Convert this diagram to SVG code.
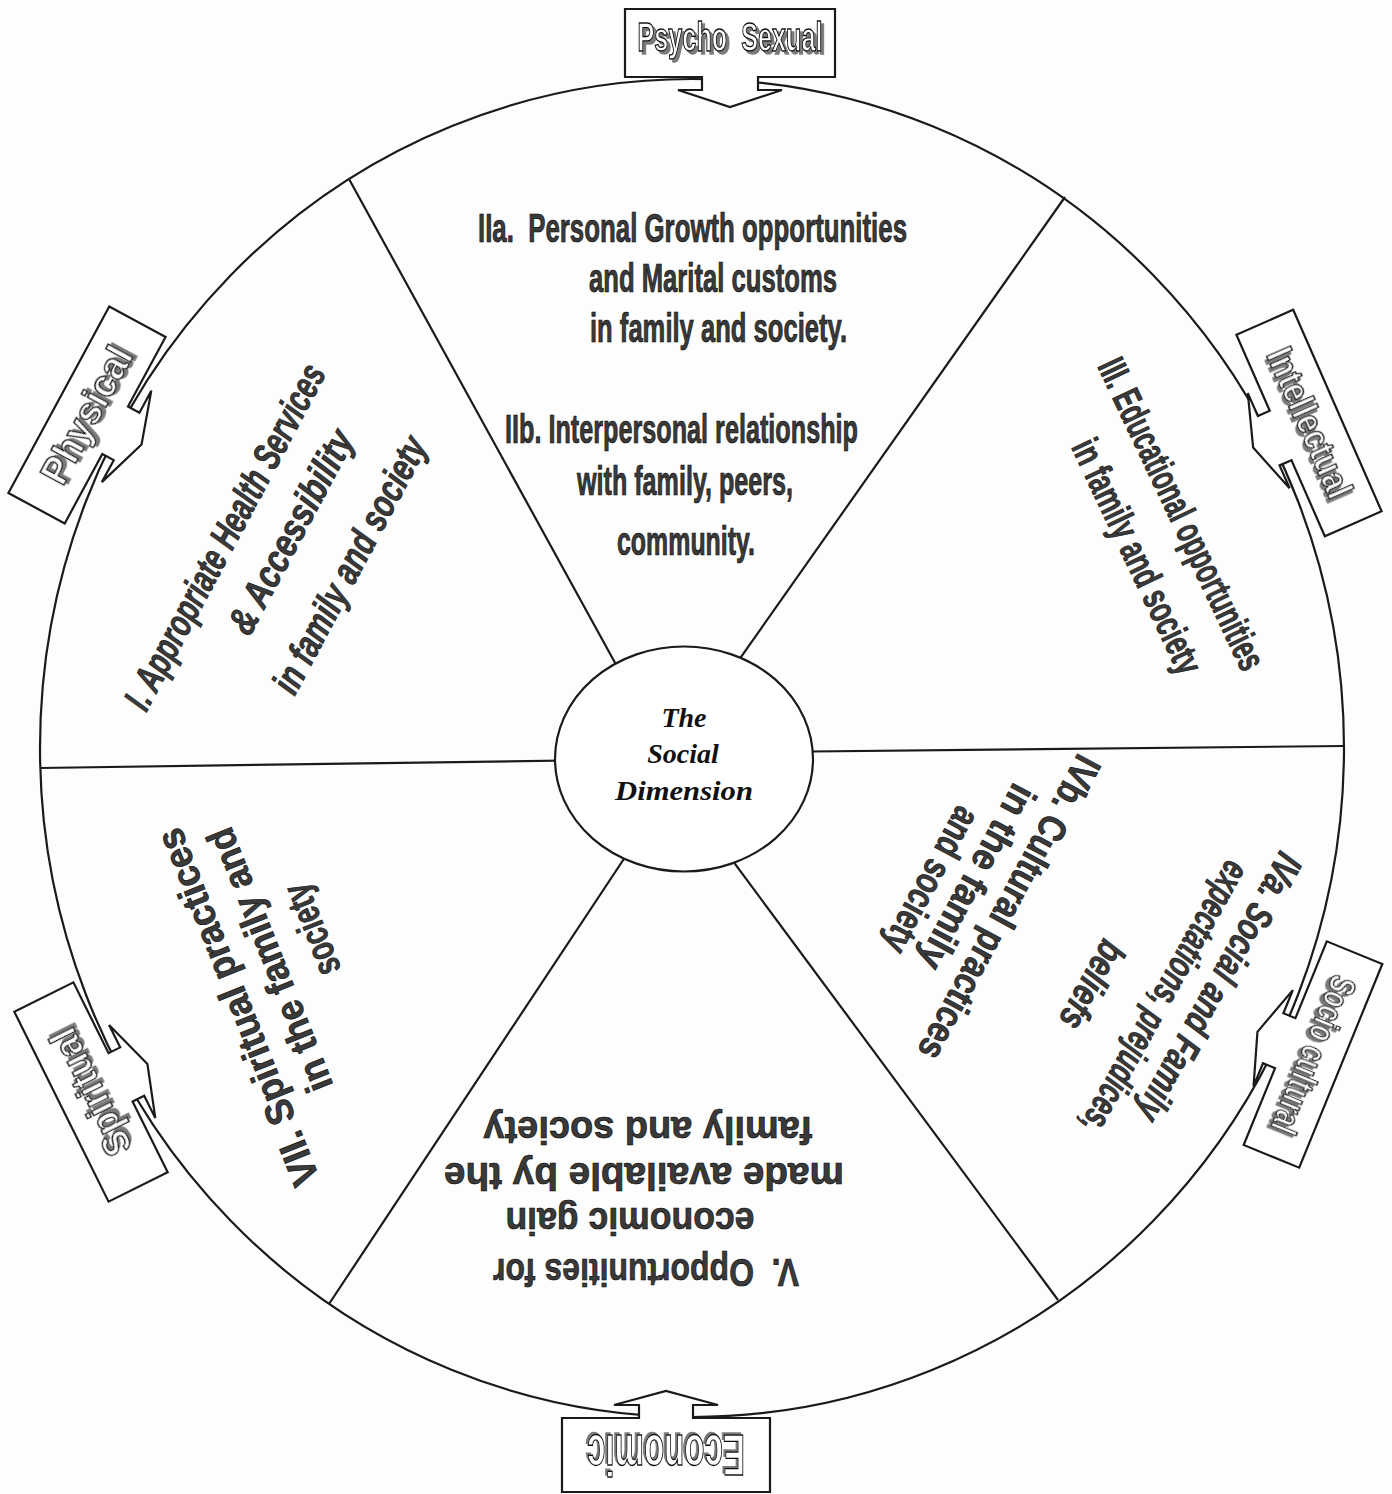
<svg xmlns="http://www.w3.org/2000/svg" width="1392" height="1494" viewBox="0 0 1392 1494">
<style>
.ln{fill:none;stroke:#1a1a1a;stroke-width:2.2}
.box{fill:#fff;stroke:#1a1a1a;stroke-width:2.2;stroke-linejoin:miter}
.tag{font-family:"Liberation Sans Narrow","Liberation Sans",Arial,sans-serif;font-weight:bold;fill:#fff;stroke:#111;stroke-width:1.4;text-anchor:middle}
.lab{font-family:"Liberation Sans Narrow","Liberation Sans",Arial,sans-serif;font-weight:bold;fill:#3a3a3a;stroke:#000;stroke-width:0.7;font-size:41px}
.rl{font-family:"Liberation Sans Narrow","Liberation Sans",Arial,sans-serif;font-weight:bold;fill:#3a3a3a;stroke:#000;stroke-width:0.6;font-size:39px;text-anchor:middle}
.it{font-style:italic}
.wide{font-family:"Liberation Sans",Arial,sans-serif}
.ctr{font-family:"Liberation Serif","Times New Roman",serif;font-weight:bold;font-style:italic;font-size:28px;fill:#111;text-anchor:middle}
</style>
<defs>
<filter id="sh" x="-20%" y="-40%" width="140%" height="180%">
<feOffset in="SourceAlpha" dx="2.5" dy="2.5" result="o"/>
<feFlood flood-color="#7a7a7a"/>
<feComposite in2="o" operator="in" result="s"/>
<feMerge><feMergeNode in="s"/><feMergeNode in="SourceGraphic"/></feMerge>
</filter>
</defs>
<rect width="1392" height="1494" fill="#fdfdfd"/>

<g id="connectors">
<ellipse class="ln" cx="692" cy="748" rx="652" ry="669"/>
<line class="ln" x1="349" y1="179" x2="641" y2="710"/>
<line class="ln" x1="1065" y1="197" x2="710" y2="701"/>
<line class="ln" x1="40" y1="768" x2="600" y2="760"/>
<line class="ln" x1="760" y1="752" x2="1344" y2="746"/>
<line class="ln" x1="651" y1="818" x2="329" y2="1304"/>
<line class="ln" x1="704" y1="822" x2="1058" y2="1300"/>
</g>

<g id="center">
<ellipse class="box" cx="684" cy="759" rx="129" ry="112.5"/>
<text class="ctr" x="684" y="727">The</text>
<text class="ctr" x="683" y="763">Social</text>
<text class="ctr" x="684" y="800" textLength="138" lengthAdjust="spacingAndGlyphs">Dimension</text>
</g>

<g id="psycho-sexual" transform="translate(730,43)">
<path class="box" d="M-105,-34 H105 V34 H28 V47 H52 L0,64 L-52,47 H-28 V34 H-105 Z"/>
<text class="tag" filter="url(#sh)" x="0" y="8" font-size="40" textLength="185" lengthAdjust="spacingAndGlyphs" xml:space="preserve">Psycho  Sexual</text>
</g>

<g id="economic" transform="translate(666,1455) rotate(180)">
<path class="box" d="M-104,-37 H104 V37 H27 V50 H52 L0,64 L-52,50 H-27 V37 H-104 Z"/>
<text class="tag" filter="url(#sh)" x="0" y="20" font-size="58" textLength="158" lengthAdjust="spacingAndGlyphs">Economic</text>
</g>

<g id="physical" transform="translate(87,415) rotate(-61.6)">
<path class="box" d="M-106,-32 H106 V32 H27 V45 H52 L0,62 L-52,45 H-27 V32 H-106 Z"/>
<text class="tag" filter="url(#sh)" x="0" y="13" font-size="38" textLength="150" lengthAdjust="spacingAndGlyphs">Physical</text>
</g>

<g id="intellectual" transform="translate(1309,423) rotate(66.3)">
<path class="box" d="M-110,-31 H110 V31 H27 V44 H52 L0,61 L-52,44 H-27 V31 H-110 Z"/>
<text class="tag" filter="url(#sh)" x="0" y="12" font-size="36" textLength="160" lengthAdjust="spacingAndGlyphs">Intellectual</text>
</g>

<g id="socio-cultural" transform="translate(1313,1054.5) rotate(112.2)">
<path class="box" d="M-110,-30 H110 V30 H27 V43 H52 L0,60 L-52,43 H-27 V30 H-110 Z"/>
<text class="tag" filter="url(#sh)" x="0" y="12" font-size="36" textLength="167" lengthAdjust="spacingAndGlyphs">Socio cultural</text>
</g>

<g id="spiritual" transform="translate(91,1092) rotate(-116.4)">
<path class="box" d="M-106,-33 H106 V33 H27 V46 H52 L0,63 L-52,46 H-27 V33 H-106 Z"/>
<text class="tag" filter="url(#sh)" x="0" y="13" font-size="38" textLength="137" lengthAdjust="spacingAndGlyphs">Spiritual</text>
</g>

<g id="sector-II">
<text class="lab" x="478" y="242" textLength="429" lengthAdjust="spacingAndGlyphs" xml:space="preserve">IIa.  Personal Growth opportunities</text>
<text class="lab" x="589" y="292" textLength="248" lengthAdjust="spacingAndGlyphs">and Marital customs</text>
<text class="lab" x="590" y="342" textLength="257" lengthAdjust="spacingAndGlyphs">in family and society.</text>
<text class="lab" x="505" y="443" textLength="353" lengthAdjust="spacingAndGlyphs">IIb. Interpersonal relationship</text>
<text class="lab" x="577" y="495" textLength="216" lengthAdjust="spacingAndGlyphs">with family, peers,</text>
<text class="lab" x="617" y="555" textLength="138" lengthAdjust="spacingAndGlyphs">community.</text>
</g>

<g id="sector-I">
<text class="rl it" transform="translate(236.5,543) rotate(-62)" textLength="385" lengthAdjust="spacingAndGlyphs">I. Appropriate Health Services</text>
<text class="rl it" transform="translate(302.5,538) rotate(-62)" textLength="225" lengthAdjust="spacingAndGlyphs">&amp; Accessibility</text>
<text class="rl it" transform="translate(361.5,571) rotate(-62)" textLength="285" lengthAdjust="spacingAndGlyphs">in family and society</text>
</g>

<g id="sector-III">
<text class="rl" transform="translate(1169.7,519.6) rotate(64.7)" textLength="340" lengthAdjust="spacingAndGlyphs">III. Educational opportunities</text>
<text class="rl" transform="translate(1125.2,562.1) rotate(64.7)" textLength="255" lengthAdjust="spacingAndGlyphs">in family and society</text>
</g>

<g id="sector-IVb">
<text class="rl" transform="translate(997.6,901.3) rotate(118.4)" textLength="340" lengthAdjust="spacingAndGlyphs">IVb. Cultural practices</text>
<text class="rl" transform="translate(965.6,870.8) rotate(118.4)" textLength="204" lengthAdjust="spacingAndGlyphs">in the family</text>
<text class="rl" transform="translate(920,874) rotate(118.4)" textLength="160" lengthAdjust="spacingAndGlyphs">and society</text>
</g>

<g id="sector-IVa">
<text class="rl it" transform="translate(1207.6,980.7) rotate(119)" textLength="300" lengthAdjust="spacingAndGlyphs">IVa. Social and Family</text>
<text class="rl it" transform="translate(1153.6,991.7) rotate(119)" textLength="305" lengthAdjust="spacingAndGlyphs">expectations, prejudices,</text>
<text class="rl it" transform="translate(1080.6,978.7) rotate(119)" textLength="95" lengthAdjust="spacingAndGlyphs">beliefs</text>
</g>

<g id="sector-V">
<text class="rl wide" transform="translate(646,1259) rotate(180)" textLength="306" lengthAdjust="spacingAndGlyphs" xml:space="preserve">V.  Opportunities for</text>
<text class="rl wide" transform="translate(630,1208) rotate(180)" textLength="249" lengthAdjust="spacingAndGlyphs">economic gain</text>
<text class="rl wide" transform="translate(644,1163) rotate(180)" textLength="400" lengthAdjust="spacingAndGlyphs">made available by the</text>
<text class="rl wide" transform="translate(648,1117) rotate(180)" textLength="329" lengthAdjust="spacingAndGlyphs">family and society</text>
</g>

<g id="sector-VII">
<text class="rl wide" transform="translate(250,1002) rotate(-111.6)" textLength="380" lengthAdjust="spacingAndGlyphs">VII. Spiritual practices</text>
<text class="rl wide" transform="translate(282,955) rotate(-111.6)" textLength="280" lengthAdjust="spacingAndGlyphs">in the family and</text>
<text class="rl wide" transform="translate(324,925) rotate(-111.6)" textLength="95" lengthAdjust="spacingAndGlyphs">society</text>
</g>
</svg>
